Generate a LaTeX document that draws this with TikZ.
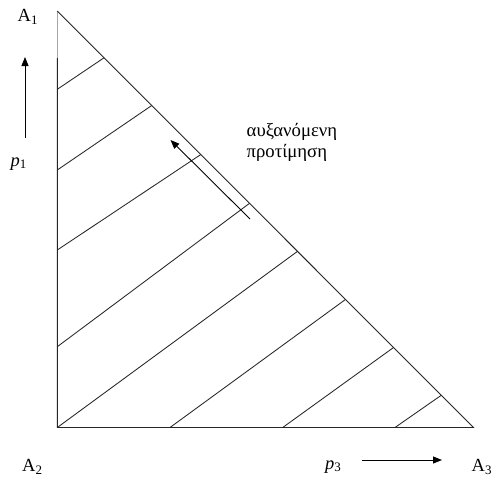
\documentclass[tikz,border=0pt]{standalone}
\usepackage{fontspec}
\setmainfont{Liberation Serif}
\usetikzlibrary{calc,arrows.meta}
\begin{document}
\begin{tikzpicture}[x=1pt,y=-1pt,
  edge/.style={line width=0.9pt,black!85},
  hatch/.style={line width=0.85pt,black!85},
  lbl/.style={font=\fontsize{18.5}{22}\selectfont,inner sep=0pt,anchor=base west},
  grk/.style={font=\fontsize{18.7}{22}\selectfont,inner sep=0pt,anchor=base west},
  arr/.style={line width=0.9pt,-{Triangle[length=9pt,width=7pt]}}]
\useasboundingbox (0,0) rectangle (493,479);
\fill[white] (0,0) rectangle (493,479);
\coordinate (A1) at (57.3,11);
\coordinate (A2) at (57.3,427.5);
\coordinate (A3) at (473.5,427.5);
\coordinate (G) at (57.3,58);
\draw[edge,black!35] (A1) -- (G);
\draw[edge] (G) -- (A2) -- (A3) -- (A1);
% hatch end points on the hypotenuse
\foreach \f [count=\i] in {0.1123,0.2269,0.3447,0.4618,0.5771,0.6925,0.8079,0.9226}
  \coordinate (H\i) at ($(A1)!\f!(A3)$);
% start points on the legs
\coordinate (L1) at (57.3,89.3);
\coordinate (L2) at (57.3,170);
\coordinate (L3) at (57.3,250);
\coordinate (L4) at (57.3,346.7);
\coordinate (L5) at (A2);
\coordinate (L6) at (170,427.5);
\coordinate (L7) at (282.7,427.5);
\coordinate (L8) at (395,427.5);
\foreach \i in {1,...,8}
  \draw[hatch] (L\i) -- (H\i);
% preference arrow
\coordinate (PT) at (250,219);
\coordinate (PH) at (170.5,140);
\draw[arr] (PT) -- (PH);
% p1 arrow
\coordinate (V0) at (25,138);
\coordinate (V1) at (25,57);
\draw[arr] (V0) -- (V1);
% p3 arrow
\coordinate (R0) at (361.5,460);
\coordinate (R1) at (442,460);
\draw[arr] (R0) -- (R1);
% labels
\node[lbl] (tA1) at (17.5,21.7) {A\textsubscript{1}};
\node[lbl] (tA2) at (22,471.7) {A\textsubscript{2}};
\node[lbl] (tA3) at (471.5,471.7) {A\textsubscript{3}};
\node[lbl] (tp1) at (10.5,166) {\textit{p}\textsubscript{1}};
\node[lbl] (tp3) at (325,469) {\textit{p}\textsubscript{3}};
\node[grk] (g1) at (246.5,136.5) {αυξανόμενη};
\node[grk] (g2) at (246.5,157.5) {προτίμηση};
\end{tikzpicture}
\end{document}
